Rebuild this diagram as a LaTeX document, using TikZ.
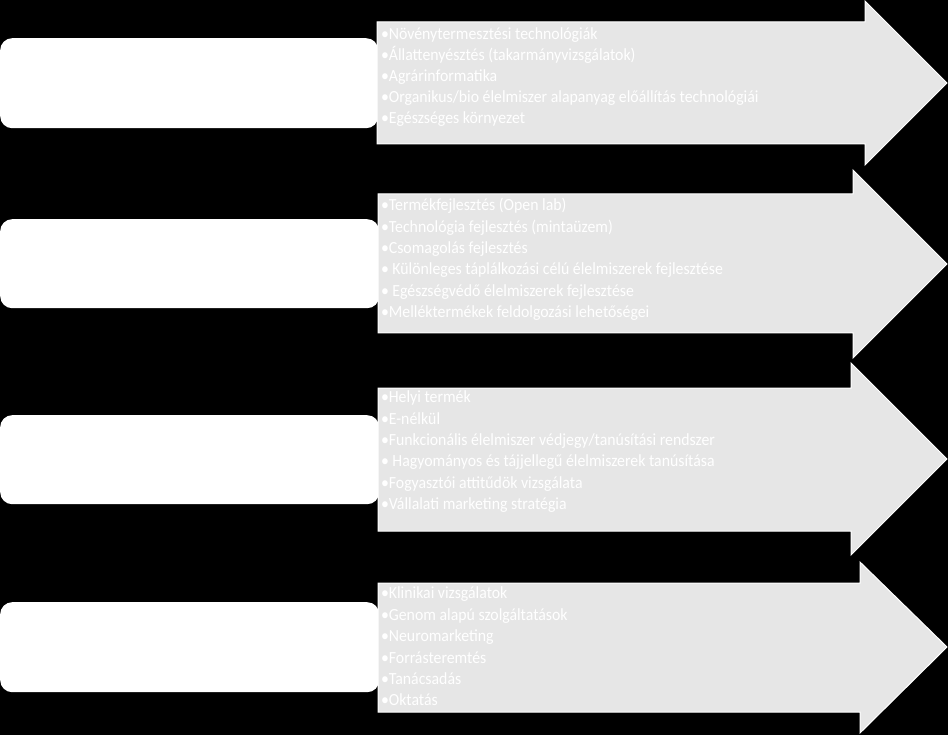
\documentclass[tikz,border=0pt]{standalone}
\usepackage{fontspec}
\setmainfont{Carlito}[FakeStretch=0.93]
\definecolor{arrowfill}{HTML}{E6E6E6}
\tikzset{
  leftbox/.style={fill=white, draw=none, rounded corners=12pt},
  arrowshape/.style={fill=arrowfill, draw=white, line width=1pt, line join=miter},
  itemtext/.style={anchor=base west, inner sep=0pt, outer sep=0pt, text=white, font=\fontsize{17}{20}\selectfont}
}
\begin{document}
\begin{tikzpicture}[x=1pt,y=-1pt]
\fill[black] (0,0) rectangle (948,735);
\useasboundingbox (0,0) rectangle (948,735);
% left rounded boxes
\node[leftbox, minimum width=378pt, minimum height=90pt, anchor=north west] (r1) at (0,38) {};
\node[leftbox, minimum width=379pt, minimum height=89pt, anchor=north west] (r2) at (0,219) {};
\node[leftbox, minimum width=379pt, minimum height=89pt, anchor=north west] (r3) at (0,415) {};
\node[leftbox, minimum width=379pt, minimum height=90pt, anchor=north west] (r4) at (0,602) {};
% arrows
\draw[arrowshape] (377,22) -- (865,22) -- (865,1) -- (947,83) -- (865,165) -- (865,144) -- (377,144) -- cycle;
\draw[arrowshape] (378,194) -- (853,194) -- (853,170) -- (947,264) -- (853,358) -- (853,333) -- (378,333) -- cycle;
\draw[arrowshape] (378,388) -- (851,388) -- (851,363) -- (947,459) -- (851,555) -- (851,531) -- (378,531) -- cycle;
\draw[arrowshape] (378,583) -- (860,583) -- (860,562) -- (947,647) -- (860,733) -- (860,712) -- (378,712) -- cycle;
% arrow 1 texts
\node[itemtext] (a1) at (381,39.5) {•Növénytermesztési technológiák};
\node[itemtext] (a2) at (381,60.5) {•Állattenyésztés (takarmányvizsgálatok)};
\node[itemtext] (a3) at (381,81.5) {•Agrárinformatika};
\node[itemtext] (a4) at (381,102.5) {•Organikus/bio élelmiszer alapanyag előállítás technológiái};
\node[itemtext] (a5) at (381,123.5) {•Egészséges környezet};
% arrow 2 texts
\node[itemtext] (b1) at (381,210.7) {•Termékfejlesztés (Open lab)};
\node[itemtext] (b2) at (381,232.1) {•Technológia fejlesztés (mintaüzem)};
\node[itemtext] (b3) at (381,253.5) {•Csomagolás fejlesztés};
\node[itemtext] (b4) at (381,274.9) {• Különleges táplálkozási célú élelmiszerek fejlesztése};
\node[itemtext] (b5) at (381,296.3) {• Egészségvédő élelmiszerek fejlesztése};
\node[itemtext] (b6) at (381,317.7) {•Melléktermékek feldolgozási lehetőségei};
% arrow 3 texts
\node[itemtext] (c1) at (381,402.8) {•Helyi termék};
\node[itemtext] (c2) at (381,424.1) {•E-nélkül};
\node[itemtext] (c3) at (381,445.4) {•Funkcionális élelmiszer védjegy/tanúsítási rendszer};
\node[itemtext] (c4) at (381,466.7) {• Hagyományos és tájjellegű élelmiszerek tanúsítása};
\node[itemtext] (c5) at (381,488.0) {•Fogyasztói attitűdök vizsgálata};
\node[itemtext] (c6) at (381,509.3) {•Vállalati marketing stratégia};
% arrow 4 texts
\node[itemtext] (d1) at (381,598.8) {•Klinikai vizsgálatok};
\node[itemtext] (d2) at (381,620.2) {•Genom alapú szolgáltatások};
\node[itemtext] (d3) at (381,641.6) {•Neuromarketing};
\node[itemtext] (d4) at (381,663.0) {•Forrásteremtés};
\node[itemtext] (d5) at (381,684.4) {•Tanácsadás};
\node[itemtext] (d6) at (381,705.8) {•Oktatás};
\end{tikzpicture}
\end{document}
